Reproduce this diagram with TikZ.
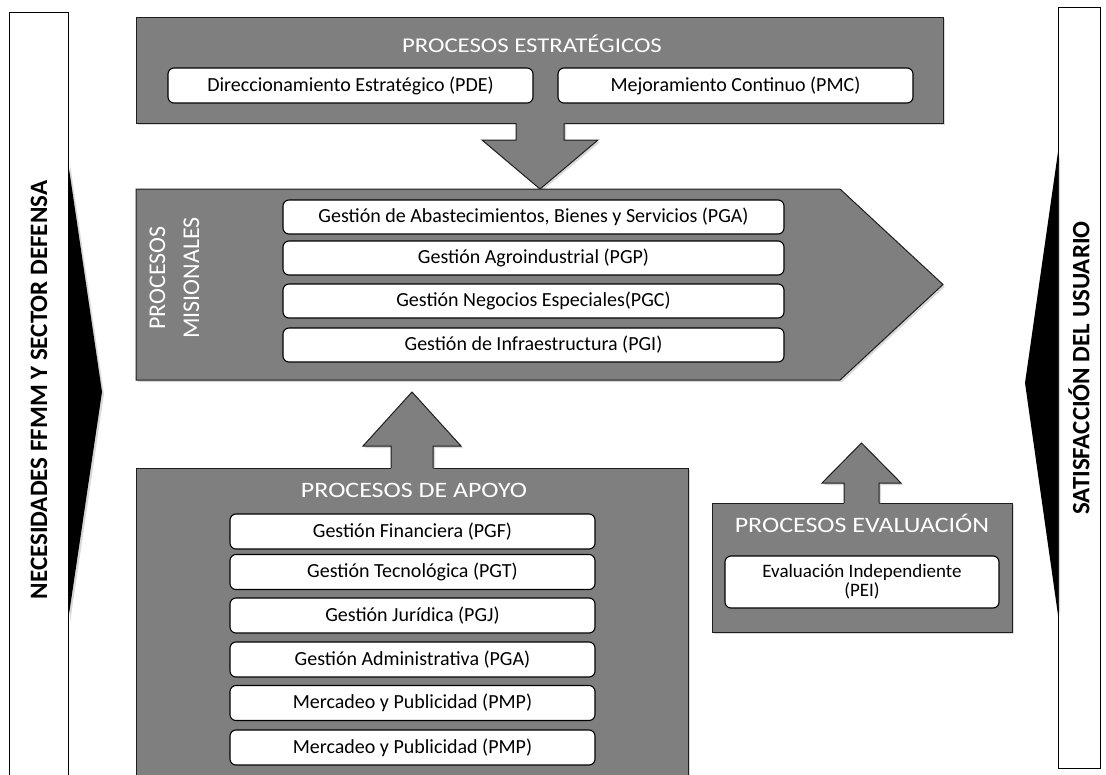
\documentclass[tikz,border=0pt]{standalone}
\usepackage{fontspec}
\setmainfont{Carlito}
\newfontfamily\widefont[FakeStretch=1.18]{Carlito}
\usetikzlibrary{shadows}
\definecolor{procgray}{HTML}{7F7F7F}
\definecolor{edgegray}{HTML}{1E1E1E}
\tikzset{
  myshadow/.style={drop shadow={opacity=0.3,shadow xshift=2pt,shadow yshift=-2pt}},
  graybox/.style={fill=procgray, draw=edgegray, line width=1pt, myshadow},
  arrowfill/.style={fill=procgray},
  arrowedge/.style={draw=edgegray, line width=1pt, line join=miter},
  wbox/.style={draw=black, fill=white, rounded corners=6pt, line width=1.1pt,
    font=\fontsize{20}{22}\selectfont, inner sep=0pt, align=center},
  wtitle/.style={text=white, font=\widefont\fontsize{22}{24}\selectfont, inner sep=0pt},
  sidebox/.style={draw=black, fill=white, line width=1pt},
  sidetext/.style={font=\bfseries\fontsize{25}{25}\selectfont, rotate=90, inner sep=0pt},
  wedge/.style={fill=black, myshadow}
}
\begin{document}
\begin{tikzpicture}[x=1pt,y=-1pt]
\useasboundingbox (0,0) rectangle (1106,774);
\clip (0,0) rectangle (1106,774);

% side panels
\path[sidebox] (9,12) rectangle (68,800);
\path[sidebox] (1058,7) rectangle (1100,768);
\path[wedge] (68,162) -- (102,392) -- (68,621) -- cycle;
\path[wedge] (1058,152) -- (1025,383) -- (1058,615) -- cycle;
\node[sidetext] (nec) at (39,390) {NECESIDADES FFMM Y SECTOR DEFENSA};
\node[sidetext] (sat) at (1079,368) {SATISFACCIÓN DEL USUARIO};

% strategic processes
\path[graybox] (136,17) rectangle (943,123);
\path[arrowfill, myshadow] (516,121) -- (516,140) -- (482,140) -- (540,189) -- (598,140) -- (564,140) -- (564,121) -- cycle;
\path[arrowedge] (516,123) -- (516,140) -- (482,140) -- (540,189) -- (598,140) -- (564,140) -- (564,123);
\node[wtitle, anchor=base, font=\widefont\fontsize{21}{24}\selectfont] (estt) at (532,52) {PROCESOS ESTRATÉGICOS};
\node[wbox, minimum width=365, minimum height=35] (pde) at (350.5,85.5) {Direccionamiento Estratégico (PDE)};
\node[wbox, minimum width=355, minimum height=35] (pmc) at (735.5,85.5) {Mejoramiento Continuo (PMC)};

% mission processes
\path[graybox] (136,189) -- (840,189) -- (943,284.5) -- (840,380) -- (136,380) -- cycle;
\node[wtitle, rotate=90, align=center, font=\fontsize{24}{34}\selectfont] (mis) at (174.5,278) {PROCESOS\\MISIONALES};
\node[wbox, minimum width=501, minimum height=34] (pga) at (533.5,217) {Gestión de Abastecimientos, Bienes y Servicios (PGA)};
\node[wbox, minimum width=501, minimum height=34] (pgp) at (533.5,258) {Gestión Agroindustrial (PGP)};
\node[wbox, minimum width=501, minimum height=34] (pgc) at (533.5,301) {Gestión Negocios Especiales(PGC)};
\node[wbox, minimum width=501, minimum height=34] (pgi) at (533.5,345) {Gestión de Infraestructura (PGI)};

% support processes
\path[graybox] (136,468) rectangle (688,800);
\path[arrowfill, myshadow] (391,470) -- (391,446) -- (363,446) -- (412,392) -- (461,446) -- (433,446) -- (433,470) -- cycle;
\path[arrowedge] (391,468) -- (391,446) -- (363,446) -- (412,392) -- (461,446) -- (433,446) -- (433,468);
\node[wtitle, anchor=base] (apt) at (414,497) {PROCESOS DE APOYO};
\node[wbox, minimum width=365, minimum height=35] (pgf) at (412.5,531.5) {Gestión Financiera (PGF)};
\node[wbox, minimum width=365, minimum height=35] (pgt) at (412.5,572) {Gestión Tecnológica (PGT)};
\node[wbox, minimum width=365, minimum height=35] (pgj) at (412.5,615.5) {Gestión Jurídica (PGJ)};
\node[wbox, minimum width=365, minimum height=35] (pgad) at (412.5,659.5) {Gestión Administrativa (PGA)};
\node[wbox, minimum width=365, minimum height=35] (pmp) at (412.5,703) {Mercadeo y Publicidad (PMP)};
\node[wbox, minimum width=365, minimum height=35] (pmpb) at (412.5,747.5) {Mercadeo y Publicidad (PMP)};

% evaluation processes
\path[graybox] (712,503) rectangle (1012,632);
\path[arrowfill, myshadow] (844,505) -- (844,483) -- (822,483) -- (861.5,443) -- (901,483) -- (879,483) -- (879,505) -- cycle;
\path[arrowedge] (844,503) -- (844,483) -- (822,483) -- (861.5,443) -- (901,483) -- (879,483) -- (879,503);
\node[wtitle, anchor=base] (evt) at (862,532) {PROCESOS EVALUACIÓN};
\node[wbox, minimum width=274, minimum height=52, font=\fontsize{19}{19}\selectfont] (pei) at (862,582) {Evaluación Independiente\\(PEI)};
\end{tikzpicture}
\end{document}
